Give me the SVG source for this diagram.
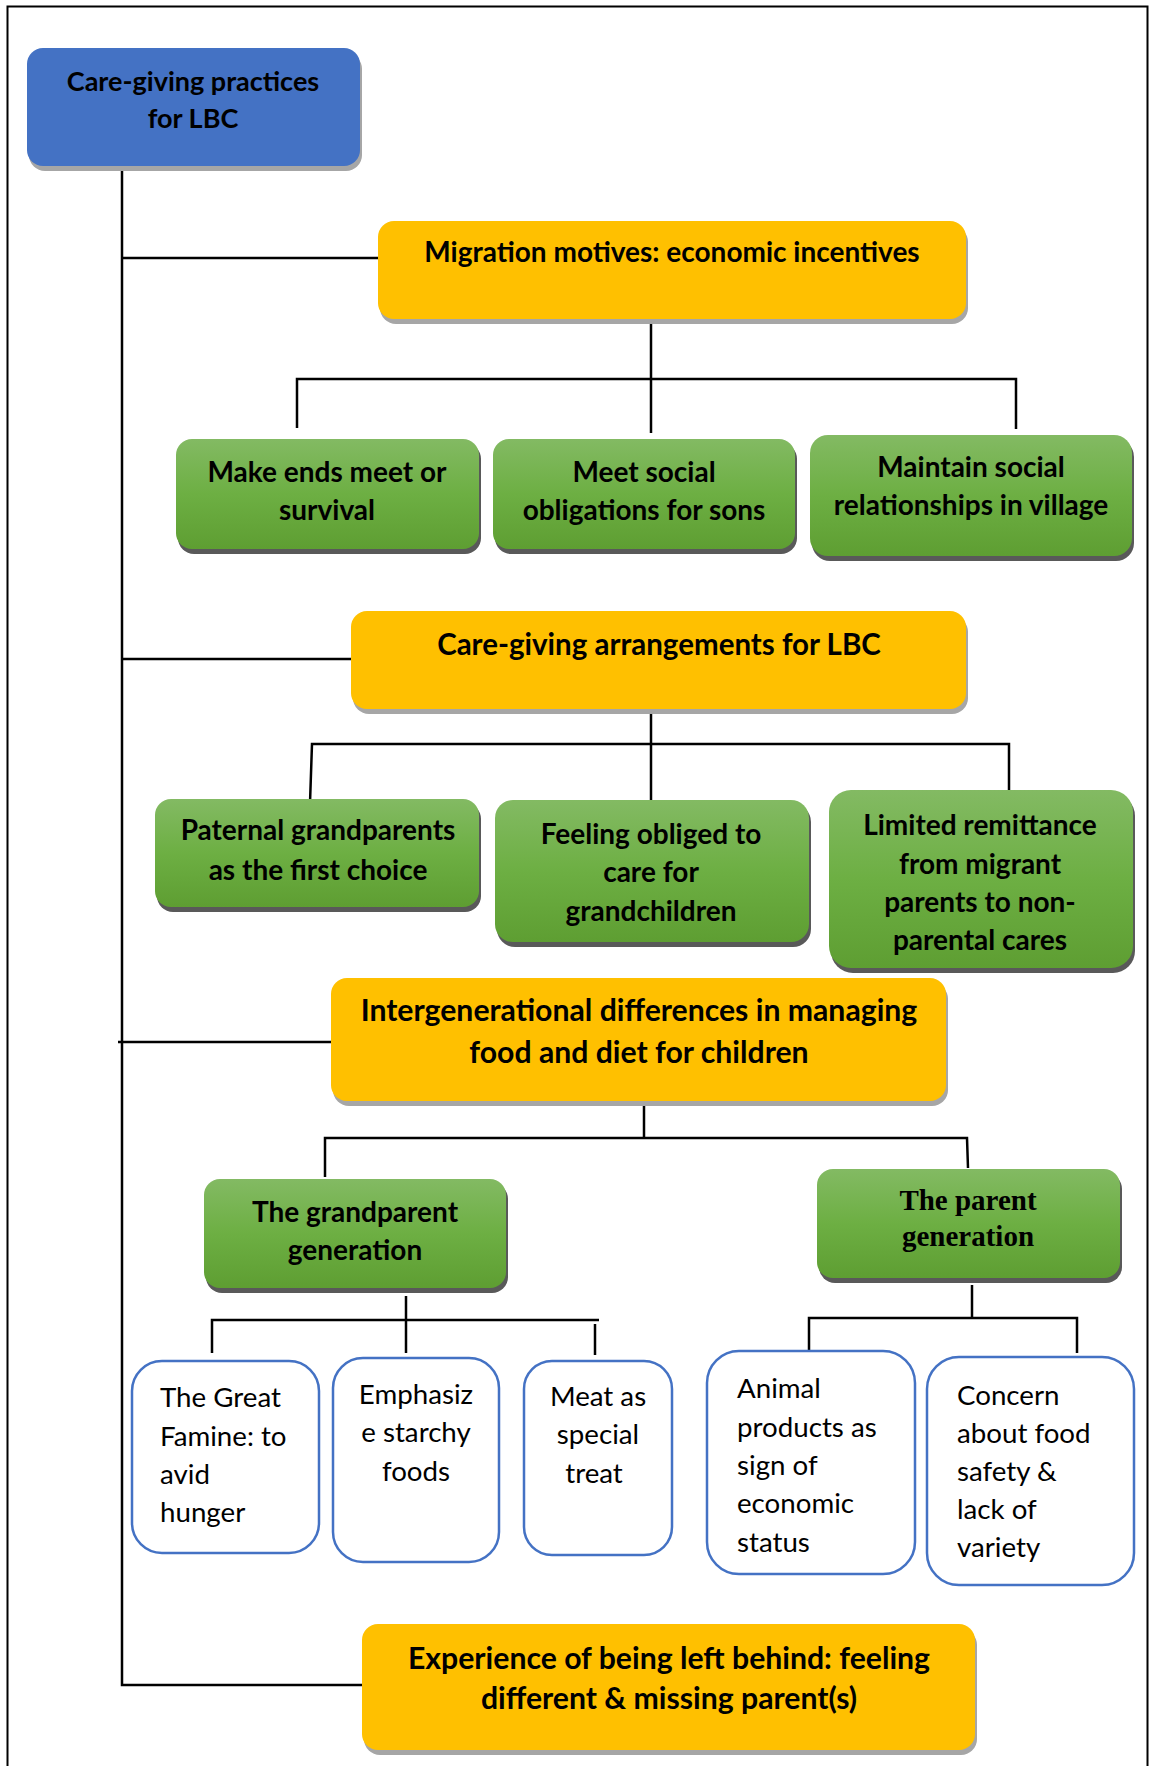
<svg xmlns="http://www.w3.org/2000/svg" width="1150" height="1766" viewBox="0 0 1150 1766">
<defs>
<linearGradient id="gGreen" x1="0" y1="0" x2="0" y2="1">
<stop offset="0" stop-color="#83BA63"/>
<stop offset="0.5" stop-color="#6DAF43"/>
<stop offset="1" stop-color="#5E9E32"/>
</linearGradient>
<style>
.bg{fill:#FFFFFF}
.frame{fill:none;stroke:#000;stroke-width:2}
.line{fill:none;stroke:#000;stroke-width:2.5}
.blue{fill:#4472C4}
.yellow{fill:#FFC000}
.green{fill:url(#gGreen)}
.shY{fill:#A6A6A6}
.shG{fill:#595959}
.white{fill:#FFFFFF;stroke:#4472C4;stroke-width:2.5}
.tb{font-family:Lato,"Liberation Sans",sans-serif;font-weight:bold;font-size:28px;fill:#000;text-anchor:middle}
.big{font-size:30.2px}
.mid{font-size:29.5px}
.sm{font-size:27px}
.ts{font-family:"Liberation Serif","Times New Roman",serif;font-weight:bold;font-size:29px;fill:#000;text-anchor:middle}
.tr{font-family:Lato,"Liberation Sans",sans-serif;font-size:27.7px;fill:#000}
.tc{text-anchor:middle}
</style>
</defs>
<rect class="bg" x="0" y="0" width="1150" height="1766"/>
<rect class="frame" x="7.5" y="6.5" width="1140" height="1770"/>

<g id="connectors">
<polyline class="line" points="122,167 122,1685 362,1685"/>
<line class="line" x1="122" y1="258" x2="379" y2="258"/>
<line class="line" x1="122" y1="659" x2="351" y2="659"/>
<line class="line" x1="118" y1="1042" x2="331" y2="1042"/>
<line class="line" x1="651" y1="319" x2="651" y2="433"/>
<polyline class="line" points="297,428 297,379 1016,379 1016,429"/>
<line class="line" x1="651" y1="710" x2="651" y2="803"/>
<polyline class="line" points="310,803 312,744 1009,744 1009,792"/>
<line class="line" x1="644" y1="1101" x2="644" y2="1138"/>
<polyline class="line" points="325,1177 325,1138 967,1138 968,1168"/>
<line class="line" x1="406" y1="1296" x2="406" y2="1353"/>
<polyline class="line" points="212,1353 212,1320 599,1320"/>
<line class="line" x1="595" y1="1324" x2="595" y2="1355"/>
<line class="line" x1="972" y1="1285" x2="972" y2="1318"/>
<polyline class="line" points="809,1353 809,1318 1077,1318 1077,1353"/>
</g>

<g id="root">
<rect class="shY" x="29" y="53" width="333" height="118" rx="16"/>
<rect class="blue" x="27" y="48" width="333" height="118" rx="16"/>
<text class="tb sm" x="193" y="91">Care-giving practices</text>
<text class="tb sm" x="193" y="128">for LBC</text>
</g>

<g id="migration">
<rect class="shY" x="380" y="226" width="588" height="98" rx="16"/>
<rect class="yellow" x="378" y="221" width="588" height="98" rx="16"/>
<text class="tb" x="672" y="262">Migration motives: economic incentives</text>
</g>

<g id="make-ends">
<rect class="shG" x="178" y="443" width="303" height="111" rx="16"/>
<rect class="green" x="176" y="439" width="303" height="110" rx="16"/>
<text class="tb" x="327" y="482">Make ends meet or</text>
<text class="tb" x="327" y="520">survival</text>
</g>

<g id="meet-social">
<rect class="shG" x="495" y="443" width="302" height="111" rx="16"/>
<rect class="green" x="493" y="439" width="302" height="110" rx="16"/>
<text class="tb" x="644" y="482">Meet social</text>
<text class="tb" x="644" y="520">obligations for sons</text>
</g>

<g id="maintain-social">
<rect class="shG" x="812" y="439" width="322" height="122" rx="18"/>
<rect class="green" x="810" y="435" width="322" height="121" rx="18"/>
<text class="tb" x="971" y="477">Maintain social</text>
<text class="tb" x="971" y="515">relationships in village</text>
</g>

<g id="arrangements">
<rect class="shY" x="353" y="616" width="615" height="98" rx="16"/>
<rect class="yellow" x="351" y="611" width="615" height="98" rx="16"/>
<text class="tb mid" x="659" y="655">Care-giving arrangements for LBC</text>
</g>

<g id="paternal">
<rect class="shG" x="157" y="803" width="324" height="109" rx="16"/>
<rect class="green" x="155" y="799" width="324" height="108" rx="16"/>
<text class="tb" x="318" y="840">Paternal grandparents</text>
<text class="tb" x="318" y="880">as the first choice</text>
</g>

<g id="feeling-obliged">
<rect class="shG" x="497" y="804" width="314" height="143" rx="18"/>
<rect class="green" x="495" y="800" width="314" height="142" rx="18"/>
<text class="tb" x="651" y="844">Feeling obliged to</text>
<text class="tb" x="651" y="882">care for</text>
<text class="tb" x="651" y="921">grandchildren</text>
</g>

<g id="limited-remittance">
<rect class="shG" x="831" y="794" width="304" height="179" rx="22"/>
<rect class="green" x="829" y="790" width="304" height="178" rx="22"/>
<text class="tb" x="980" y="835">Limited remittance</text>
<text class="tb" x="980" y="874">from migrant</text>
<text class="tb" x="980" y="912">parents to non-</text>
<text class="tb" x="980" y="950">parental cares</text>
</g>

<g id="intergenerational">
<rect class="shY" x="333" y="983" width="615" height="123" rx="16"/>
<rect class="yellow" x="331" y="978" width="615" height="123" rx="16"/>
<text class="tb big" x="639" y="1021">Intergenerational differences in managing</text>
<text class="tb big" x="639" y="1063">food and diet for children</text>
</g>

<g id="grandparent-gen">
<rect class="shG" x="206" y="1183" width="302" height="110" rx="16"/>
<rect class="green" x="204" y="1179" width="302" height="109" rx="16"/>
<text class="tb" x="355" y="1222">The grandparent</text>
<text class="tb" x="355" y="1260">generation</text>
</g>

<g id="parent-gen">
<rect class="shG" x="819" y="1173" width="303" height="110" rx="16"/>
<rect class="green" x="817" y="1169" width="303" height="109" rx="16"/>
<text class="ts" x="968" y="1210">The parent</text>
<text class="ts" x="968" y="1246">generation</text>
</g>

<g id="great-famine">
<rect class="white" x="132" y="1361" width="187" height="192" rx="30"/>
<text class="tr" x="160" y="1407">The Great</text>
<text class="tr" x="160" y="1446">Famine: to</text>
<text class="tr" x="160" y="1484">avid</text>
<text class="tr" x="160" y="1522">hunger</text>
</g>

<g id="starchy">
<rect class="white" x="333" y="1358" width="166" height="204" rx="30"/>
<text class="tr tc" x="416" y="1404">Emphasiz</text>
<text class="tr tc" x="416" y="1442">e starchy</text>
<text class="tr tc" x="416" y="1481">foods</text>
</g>

<g id="meat">
<rect class="white" x="524" y="1361" width="148" height="194" rx="28"/>
<text class="tr tc" x="598" y="1406">Meat as</text>
<text class="tr tc" x="598" y="1444">special</text>
<text class="tr tc" x="594" y="1483">treat</text>
</g>

<g id="animal">
<rect class="white" x="707" y="1351" width="208" height="223" rx="32"/>
<text class="tr" x="737" y="1398">Animal</text>
<text class="tr" x="737" y="1437">products as</text>
<text class="tr" x="737" y="1475">sign of</text>
<text class="tr" x="737" y="1513">economic</text>
<text class="tr" x="737" y="1552">status</text>
</g>

<g id="concern">
<rect class="white" x="927" y="1357" width="207" height="228" rx="32"/>
<text class="tr" x="957" y="1405">Concern</text>
<text class="tr" x="957" y="1443">about food</text>
<text class="tr" x="957" y="1481">safety &amp;</text>
<text class="tr" x="957" y="1519">lack of</text>
<text class="tr" x="957" y="1557">variety</text>
</g>

<g id="experience">
<rect class="shY" x="364" y="1629" width="613" height="126" rx="16"/>
<rect class="yellow" x="362" y="1624" width="613" height="126" rx="16"/>
<text class="tb big" x="669" y="1669">Experience of being left behind: feeling</text>
<text class="tb big" x="669" y="1709">different &amp; missing parent(s)</text>
</g>
</svg>
